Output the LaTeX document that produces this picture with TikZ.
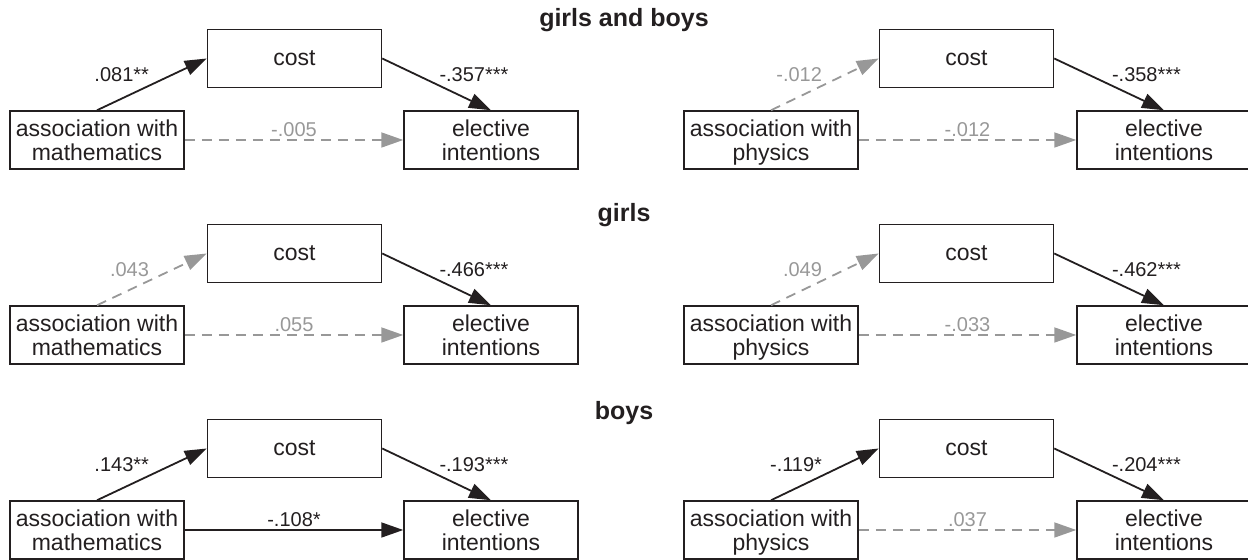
\documentclass[tikz,border=0pt]{standalone}
\usepackage{fontspec}
\setmainfont{Liberation Sans}
\usepackage{xcolor}
\usepackage{tikz}
\usetikzlibrary{arrows.meta,positioning}
\definecolor{Ink}{HTML}{231F20}
\definecolor{NsGray}{HTML}{989898}
\tikzset{
  every picture/.style={line width=0.8pt},
  varbox/.style={
    draw=Ink,
    align=center,
    text=Ink,
    font=\fontsize{11.5}{12}\selectfont,
    text depth=0pt,
    minimum width=87pt,
    minimum height=29pt,
    inner sep=2pt,
    line width=0.75pt
  },
  sigarrow/.style={-{Triangle[length=11pt,width=7.5pt]}, draw=Ink, line width=0.9pt},
  nsarrow/.style={-{Triangle[length=11pt,width=7.5pt]}, draw=NsGray, line width=0.9pt,
    dash pattern=on 5pt off 3.5pt},
  coeflabel/.style={font=\fontsize{10}{12}\selectfont, text=Ink, inner sep=1pt},
  nslabel/.style={coeflabel, text=NsGray},
  grouptitle/.style={font=\fontsize{12.5}{15}\selectfont\bfseries, text=Ink}
}

\begin{document}
\begin{tikzpicture}[node distance=11pt and 11pt]
  \useasboundingbox (0,0) rectangle (624pt,-280pt);

  % girls and boys
  \node[grouptitle] (t1) at (312pt,-10pt) {girls and boys};

  \node[varbox] (m1a) at (48.5pt,-70pt) {association with\\mathematics};
  \node[varbox, above right=11pt and 11pt of m1a] (m1c) {cost};
  \node[varbox, below right=11pt and 10.5pt of m1c] (m1e) {elective\\intentions};
  \draw[sigarrow] (m1a.north) -- node[coeflabel, above left] {.081**} (m1c.west);
  \draw[sigarrow] (m1c.east) -- node[coeflabel, above right] {-.357***} (m1e.north);
  \draw[nsarrow] (m1a.east) -- node[nslabel, above] {-.005} (m1e.west);

  \node[varbox] (p1a) at (385.5pt,-70pt) {association with\\physics};
  \node[varbox, above right=11pt and 10pt of p1a] (p1c) {cost};
  \node[varbox, below right=11pt and 11pt of p1c] (p1e) {elective\\intentions};
  \draw[nsarrow] (p1a.north) -- node[nslabel, above left] {-.012} (p1c.west);
  \draw[sigarrow] (p1c.east) -- node[coeflabel, above right] {-.358***} (p1e.north);
  \draw[nsarrow] (p1a.east) -- node[nslabel, above] {-.012} (p1e.west);

  % girls
  \node[grouptitle] (t2) at (312pt,-107.5pt) {girls};

  \node[varbox] (m2a) at (48.5pt,-167.5pt) {association with\\mathematics};
  \node[varbox, above right=11pt and 11pt of m2a] (m2c) {cost};
  \node[varbox, below right=11pt and 10.5pt of m2c] (m2e) {elective\\intentions};
  \draw[nsarrow] (m2a.north) -- node[nslabel, above left] {.043} (m2c.west);
  \draw[sigarrow] (m2c.east) -- node[coeflabel, above right] {-.466***} (m2e.north);
  \draw[nsarrow] (m2a.east) -- node[nslabel, above] {.055} (m2e.west);

  \node[varbox] (p2a) at (385.5pt,-167.5pt) {association with\\physics};
  \node[varbox, above right=11pt and 10pt of p2a] (p2c) {cost};
  \node[varbox, below right=11pt and 11pt of p2c] (p2e) {elective\\intentions};
  \draw[nsarrow] (p2a.north) -- node[nslabel, above left] {.049} (p2c.west);
  \draw[sigarrow] (p2c.east) -- node[coeflabel, above right] {-.462***} (p2e.north);
  \draw[nsarrow] (p2a.east) -- node[nslabel, above] {-.033} (p2e.west);

  % boys
  \node[grouptitle] (t3) at (312pt,-206.5pt) {boys};

  \node[varbox] (m3a) at (48.5pt,-265pt) {association with\\mathematics};
  \node[varbox, above right=11pt and 11pt of m3a] (m3c) {cost};
  \node[varbox, below right=11pt and 10.5pt of m3c] (m3e) {elective\\intentions};
  \draw[sigarrow] (m3a.north) -- node[coeflabel, above left] {.143**} (m3c.west);
  \draw[sigarrow] (m3c.east) -- node[coeflabel, above right] {-.193***} (m3e.north);
  \draw[sigarrow] (m3a.east) -- node[coeflabel, above] {-.108*} (m3e.west);

  \node[varbox] (p3a) at (385.5pt,-265pt) {association with\\physics};
  \node[varbox, above right=11pt and 10pt of p3a] (p3c) {cost};
  \node[varbox, below right=11pt and 11pt of p3c] (p3e) {elective\\intentions};
  \draw[sigarrow] (p3a.north) -- node[coeflabel, above left] {-.119*} (p3c.west);
  \draw[sigarrow] (p3c.east) -- node[coeflabel, above right] {-.204***} (p3e.north);
  \draw[nsarrow] (p3a.east) -- node[nslabel, above] {.037} (p3e.west);
\end{tikzpicture}
\end{document}
